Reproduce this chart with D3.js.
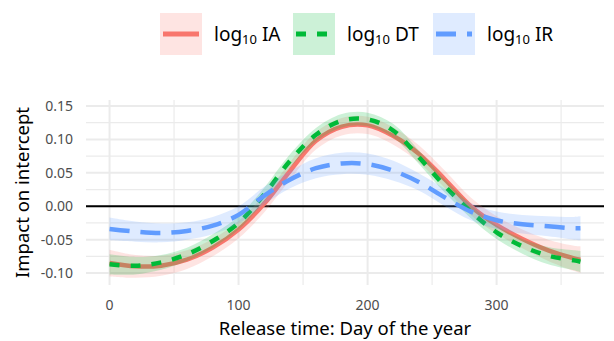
<!DOCTYPE html>
<html lang="en">
<head>
<meta charset="UTF-8">
<title>Impact on intercept</title>
<script src="https://cdn.jsdelivr.net/npm/d3@7"></script>
<style>
  body { margin: 0; background: #fff; }
  text { font-family: "Noto Sans", "DejaVu Sans", sans-serif; }
</style>
</head>
<body>
<script>
// smoothed effect by day of year
var days = [0, 20, 40, 60, 80, 100, 120, 140, 160, 180, 200, 220, 240, 260, 280, 300, 320, 340, 360, 365];
var ia = [-0.085, -0.090, -0.089, -0.080, -0.062, -0.035, 0.004, 0.053, 0.098, 0.119, 0.121, 0.105, 0.078, 0.040, 0.000, -0.028, -0.049, -0.066, -0.078, -0.080];
var dt = [-0.087, -0.089, -0.084, -0.072, -0.052, -0.025, 0.018, 0.068, 0.107, 0.128, 0.130, 0.113, 0.073, 0.030, -0.008, -0.039, -0.060, -0.074, -0.081, -0.083];
var ir = [-0.034, -0.038, -0.040, -0.037, -0.029, -0.013, 0.016, 0.040, 0.057, 0.064, 0.063, 0.053, 0.036, 0.013, -0.008, -0.021, -0.027, -0.030, -0.033, -0.033];
// half widths of the confidence bands
var iaBand = [0.020, 0.017, 0.015, 0.014, 0.013, 0.013, 0.013, 0.013, 0.013, 0.013, 0.013, 0.013, 0.013, 0.013, 0.013, 0.013, 0.014, 0.016, 0.019, 0.020];
var dtBand = [0.015, 0.013, 0.011, 0.010, 0.010, 0.010, 0.010, 0.010, 0.010, 0.010, 0.010, 0.010, 0.010, 0.010, 0.010, 0.010, 0.011, 0.013, 0.015, 0.016];
var irBand = [0.017, 0.015, 0.014, 0.013, 0.013, 0.013, 0.013, 0.013, 0.015, 0.016, 0.016, 0.015, 0.013, 0.013, 0.013, 0.013, 0.014, 0.015, 0.017, 0.018];

var seriesNames = ["IA", "DT", "IR"];
var xTicks = [0, 100, 200, 300];
var xMinor = [50, 150, 250, 350];
var yTicks = [-0.10, -0.05, 0.00, 0.05, 0.10, 0.15];
var yMinor = [-0.075, -0.025, 0.025, 0.075, 0.125];

var width = 614, height = 341;
var padL = 86, padR = 604, padT = 100, padB = 285;

var series = [
  {name: seriesNames[0], vals: ia, band: iaBand, color: "#F8766D", dash: null},
  {name: seriesNames[1], vals: dt, band: dtBand, color: "#00BA38", dash: "10 11"},
  {name: seriesNames[2], vals: ir, band: irBand, color: "#619CFF", dash: "20 11"}
];

var svg = d3.select("body").append("svg")
  .attr("width", width)
  .attr("height", height);

var x = d3.scaleLinear().domain([-18.25, 383.25]).range([padL, padR]);
var y = d3.scaleLinear().domain([-0.1179, 0.159]).range([padB, padT]);

// grid
var grid = svg.append("g");
grid.selectAll(".ymin").data(yMinor).enter().append("line")
  .attr("x1", padL).attr("x2", padR)
  .attr("y1", function(d){ return y(d); }).attr("y2", function(d){ return y(d); })
  .attr("stroke", "#ebebeb").attr("stroke-width", 1.2);
grid.selectAll(".xmin").data(xMinor).enter().append("line")
  .attr("y1", padT).attr("y2", padB)
  .attr("x1", function(d){ return x(d); }).attr("x2", function(d){ return x(d); })
  .attr("stroke", "#ebebeb").attr("stroke-width", 1.2);
grid.selectAll(".ymaj").data(yTicks).enter().append("line")
  .attr("x1", padL).attr("x2", padR)
  .attr("y1", function(d){ return y(d); }).attr("y2", function(d){ return y(d); })
  .attr("stroke", "#ebebeb").attr("stroke-width", 2);
grid.selectAll(".xmaj").data(xTicks).enter().append("line")
  .attr("y1", padT).attr("y2", padB)
  .attr("x1", function(d){ return x(d); }).attr("x2", function(d){ return x(d); })
  .attr("stroke", "#ebebeb").attr("stroke-width", 2);

// zero line
svg.append("line")
  .attr("x1", padL).attr("x2", padR)
  .attr("y1", y(0)).attr("y2", y(0))
  .attr("stroke", "#000").attr("stroke-width", 2);

var curve = d3.curveCatmullRom.alpha(0.5);

var area = d3.area()
  .x(function(d){ return x(d.day); })
  .y0(function(d){ return y(d.v - d.h); })
  .y1(function(d){ return y(d.v + d.h); })
  .curve(curve);

var line = d3.line()
  .x(function(d){ return x(d.day); })
  .y(function(d){ return y(d.v); })
  .curve(curve);

series.forEach(function(s){
  var pts = days.map(function(d, i){ return {day: d, v: s.vals[i], h: s.band[i]}; });
  svg.append("path").datum(pts)
    .attr("d", area)
    .attr("fill", s.color).attr("fill-opacity", 0.2);
  svg.append("path").datum(pts)
    .attr("d", line)
    .attr("fill", "none")
    .attr("stroke", s.color)
    .attr("stroke-width", 4.5)
    .attr("stroke-dasharray", s.dash);
});

// axis labels
svg.selectAll(".xt").data(xTicks).enter().append("text")
  .attr("x", function(d){ return x(d); })
  .attr("y", 310)
  .attr("text-anchor", "middle")
  .attr("font-size", 14)
  .attr("fill", "#4d4d4d")
  .text(function(d){ return d; });

svg.selectAll(".yt").data(yTicks).enter().append("text")
  .attr("x", 73)
  .attr("y", function(d){ return y(d) + 5; })
  .attr("text-anchor", "end")
  .attr("font-size", 14)
  .attr("fill", "#4d4d4d")
  .text(function(d){ return d3.format(".2f")(d).replace("−", "-"); });

svg.append("text")
  .attr("x", (padL + padR) / 2)
  .attr("y", 335)
  .attr("text-anchor", "middle")
  .attr("font-size", 18.5)
  .attr("fill", "#000")
  .text("Release time: Day of the year");

svg.append("text")
  .attr("transform", "translate(29," + ((padT + padB) / 2) + ") rotate(-90)")
  .attr("text-anchor", "middle")
  .attr("font-size", 18.5)
  .attr("fill", "#000")
  .text("Impact on intercept");

// legend
var keyX = [160, 293, 433];
var leg = svg.selectAll(".leg").data(series).enter().append("g")
  .attr("transform", function(d, i){ return "translate(" + keyX[i] + ",13)"; });
leg.append("rect")
  .attr("width", 42).attr("height", 42)
  .attr("fill", function(d){ return d.color; }).attr("fill-opacity", 0.2);
leg.append("line")
  .attr("x1", 3).attr("x2", 39).attr("y1", 21).attr("y2", 21)
  .attr("stroke", function(d){ return d.color; })
  .attr("stroke-width", 5)
  .attr("stroke-dasharray", function(d){ return d.dash; });
var lt = leg.append("text")
  .attr("x", 54).attr("y", 28)
  .attr("font-size", 19)
  .attr("fill", "#000");
lt.append("tspan").text("log");
lt.append("tspan").attr("font-size", 13).attr("dy", 3).text("10");
lt.append("tspan").attr("dy", -3).text(function(d){ return " " + d.name; });
</script>
</body>
</html>
